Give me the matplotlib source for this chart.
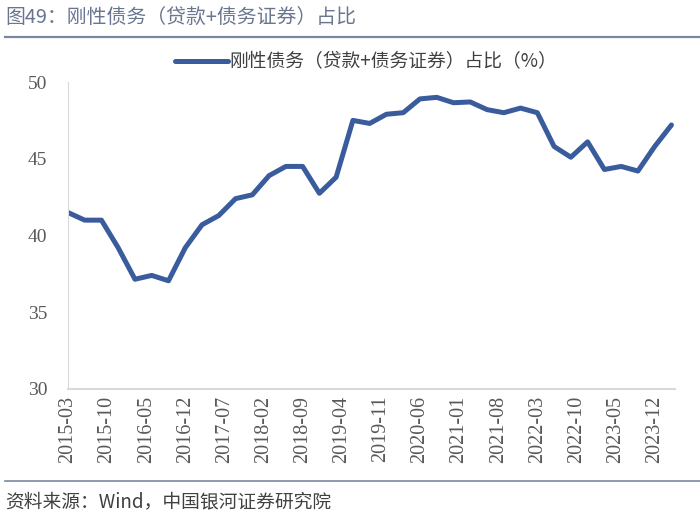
import matplotlib
matplotlib.use("Agg")
import matplotlib.pyplot as plt
from matplotlib.lines import Line2D
import pandas as pd

# quarterly observations, 2015-03 .. 2024-03
quarters = pd.date_range("2015-03-01", "2024-03-01", freq="3MS")
share = [41.5, 41.0, 41.0, 39.2, 37.15, 37.4, 37.05, 39.2, 40.7, 41.3,
         42.4, 42.65, 43.9, 44.5, 44.5, 42.75, 43.8, 47.5, 47.3, 47.9,
         48.0, 48.9, 49.0, 48.65, 48.7, 48.2, 48.0, 48.3, 48.0, 45.8,
         45.1, 46.1, 44.3, 44.5, 44.2, 45.8, 47.2]
tick_labels = ["2015-03", "2015-10", "2016-05", "2016-12", "2017-07", "2018-02",
               "2018-09", "2019-04", "2019-11", "2020-06", "2021-01", "2021-08",
               "2022-03", "2022-10", "2023-05", "2023-12"]
y_ticks = [30, 35, 40, 45, 50]

title = "图49：刚性债务（贷款+债务证券）占比"
series_name = "刚性债务（贷款+债务证券）占比（%）"
source = "资料来源：Wind，中国银河证券研究院"

cjk = ["Noto Sans CJK SC", "DejaVu Sans"]
serif = ["Liberation Serif", "DejaVu Serif"]
grey = "#595959"
line_col = "#3A5C9C"


def month_idx(d):
    d = pd.Timestamp(d)
    return (d.year - 2015) * 12 + d.month - 3


x = [month_idx(d) for d in quarters]
tick_pos = [month_idx(t + "-01") for t in tick_labels]

fig = plt.figure(figsize=(7, 5.19), dpi=100)
ax = fig.add_axes([0.097, 0.2505, 0.867, 0.5915])

ax.plot(x, share, color=line_col, lw=3.6, solid_capstyle="round",
        solid_joinstyle="round", label=series_name)

ax.set_xlim(0, 108.6)
ax.set_ylim(30, 50)
ax.set_yticks(y_ticks)
ax.set_yticklabels([str(v) for v in y_ticks], family=serif, fontsize=14, color=grey)
ax.set_xticks(tick_pos)
ax.set_xticklabels(tick_labels, rotation=90, family=serif, fontsize=14.5, color=grey)
ax.tick_params(length=0, pad=5)
ax.tick_params(axis="y", pad=15)

for s in ["top", "right"]:
    ax.spines[s].set_visible(False)
ax.spines["left"].set_color("#D9D9D9")
ax.spines["bottom"].set_color("#D9D9D9")
ax.spines["bottom"].set_linewidth(1.5)

fig.legend(loc="center", bbox_to_anchor=(0.523, 0.881), frameon=False,
           handlelength=2.8, handletextpad=0.1,
           prop={"family": cjk, "size": 13.5}, labelcolor="#404040")

fig.text(0.007, 0.967, title, family=cjk, fontsize=14.3, color="#6A7690",
         ha="left", va="center")
fig.add_artist(Line2D([0.007, 1.0], [0.929, 0.929], transform=fig.transFigure,
                      color="#7B86A0", lw=1.6))
fig.add_artist(Line2D([0.007, 1.0], [0.073, 0.073], transform=fig.transFigure,
                      color="#7B86A0", lw=1.2))
fig.text(0.007, 0.033, source, family=cjk, fontsize=13.5, color="#404040",
         ha="left", va="center")

fig.savefig("out.png", dpi=100)
